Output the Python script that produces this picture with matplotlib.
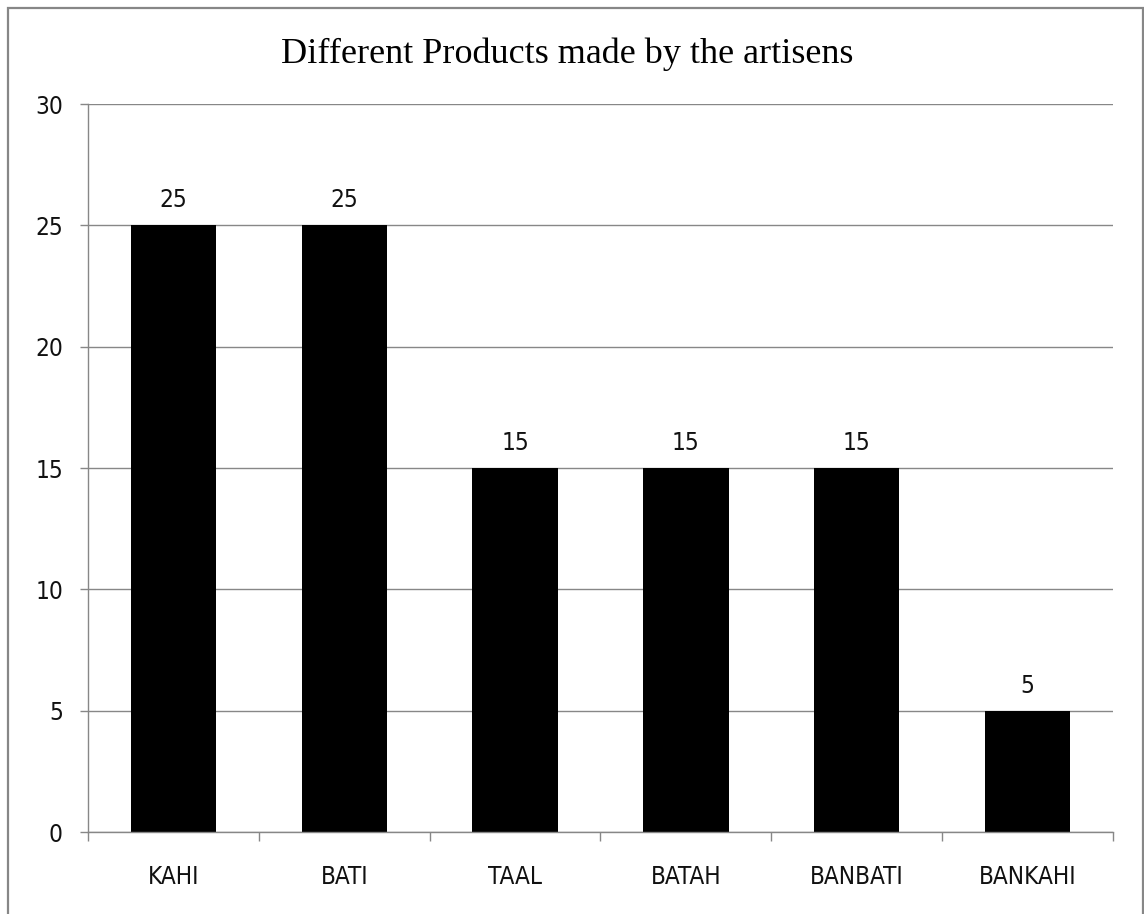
import matplotlib
matplotlib.use("Agg")
import matplotlib.pyplot as plt
from matplotlib.patches import Rectangle
from matplotlib import font_manager
import numpy as np

categories = ["KAHI", "BATI", "TAAL", "BATAH", "BANBATI", "BANKAHI"]
counts = [25, 25, 15, 15, 15, 5]
y_ticks = [0, 5, 10, 15, 20, 25, 30]

GRAY = "#878787"

# Arial Narrow look-alike if one is around, else condensed DejaVu
names = {f.name for f in font_manager.fontManager.ttflist}
narrow = [n for n in ["Liberation Sans Narrow", "Arial Narrow"] if n in names]
LABEL_FONT = font_manager.FontProperties(
    family=narrow + ["DejaVu Sans"], stretch="condensed", size=19 if narrow else 17.5
)

W, H = 1144, 914
fig = plt.figure(figsize=(W / 100, H / 100), dpi=100)
ax = fig.add_axes([88 / W, (H - 832) / H, (1113 - 88) / W, (832 - 104) / H])

x = np.arange(len(categories))
ax.bar(x, counts, width=0.5, color="black", zorder=3)

for xi, v in zip(x, counts):
    ax.annotate(
        str(v),
        (xi, v),
        xytext=(0, 13),
        textcoords="offset points",
        ha="center",
        va="baseline",
        fontproperties=LABEL_FONT,
        color="#111111",
    )

ax.set_xlim(-0.5, len(categories) - 0.5)
ax.set_ylim(0, 30)
ax.set_yticks(y_ticks)
ax.set_yticklabels([str(t) for t in y_ticks], fontproperties=LABEL_FONT)
ax.set_xticks(x)
ax.set_xticklabels(categories, fontproperties=LABEL_FONT)
ax.set_xticks(np.arange(-0.5, len(categories)), minor=True)

ax.tick_params(axis="x", which="major", length=0, pad=24, colors="#111111")
ax.tick_params(axis="x", which="minor", length=6.5, width=1.0, color=GRAY, direction="out")
ax.tick_params(axis="y", which="major", length=6, width=1.0, color=GRAY, pad=12,
               labelcolor="#111111")

ax.yaxis.grid(True, color=GRAY, linewidth=1.0, zorder=0)
ax.set_axisbelow(True)
for side in ["top", "right"]:
    ax.spines[side].set_visible(False)
for side in ["left", "bottom"]:
    ax.spines[side].set_color(GRAY)
    ax.spines[side].set_linewidth(1.0)
ax.spines["bottom"].set_zorder(4)

fig.text(0.496, (H - 63) / H, "Different Products made by the artisens",
         ha="center", va="baseline", fontsize=26, family="Liberation Serif")

fig.patches.append(Rectangle((8 / W, -0.05), (1143 - 8) / W, 1.05 - 8 / H,
                             transform=fig.transFigure, fill=False,
                             edgecolor=GRAY, linewidth=1.6))

fig.savefig("out.png", dpi=100)
